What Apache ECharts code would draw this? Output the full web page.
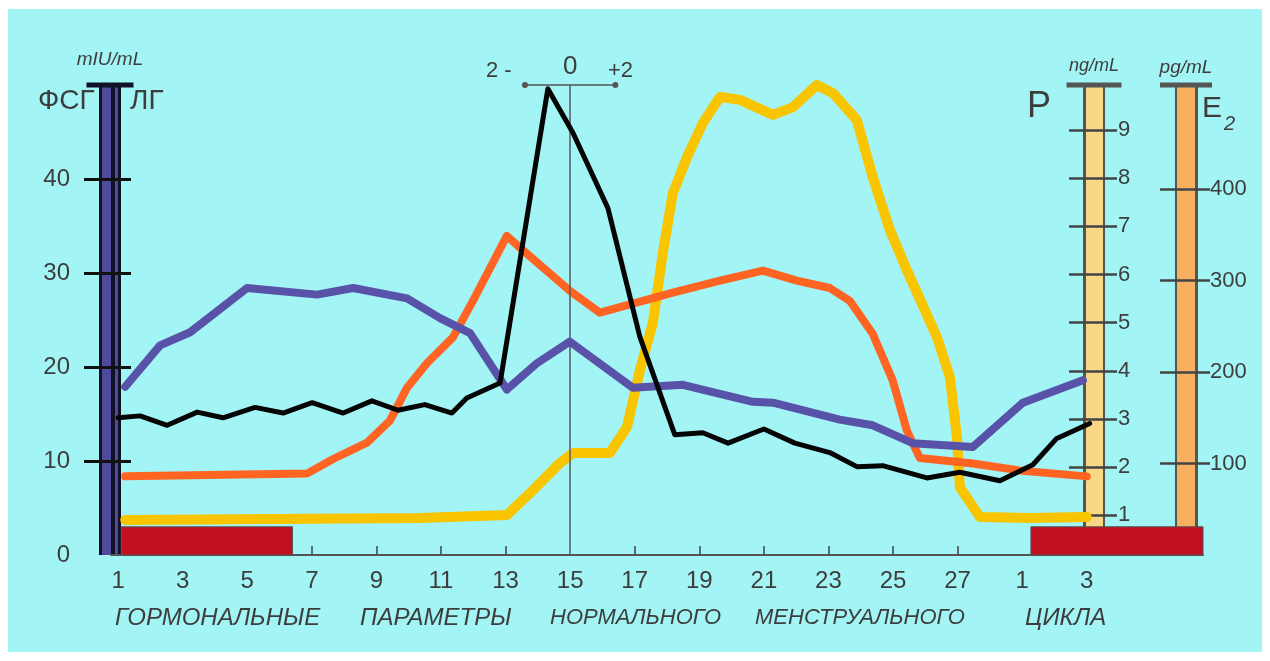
<!DOCTYPE html>
<html>
<head>
<meta charset="utf-8">
<title>Гормональные параметры нормального менструального цикла</title>
<script src="https://cdn.jsdelivr.net/npm/echarts@6/dist/echarts.min.js"></script>
<style>
	html, body { margin: 0; padding: 0; background: #fff; }
	#bg { position: absolute; left: 8px; top: 9px; width: 1254px; height: 643px; background: #a3f4f5; }
	#chart { position: absolute; left: 0; top: 0; width: 1270px; height: 661px; }
</style>
</head>
<body>
<div id="bg"></div>
<div id="chart"></div>
<script>
// день цикла: 29, 30, 31 = дни 1, 2, 3 следующего цикла
var dayLabels = [1, 3, 5, 7, 9, 11, 13, 15, 17, 19, 21, 23, 25, 27, 29, 31];
var dayTicks = [7, 9, 11, 13, 17, 19, 21, 23, 25, 27];

// ФСГ, mIU/mL
var fshDays = [1.22, 2.3, 3.23, 4.99, 7.16, 8.28, 9.95, 10.97, 11.9, 13.04, 13.97, 14.99, 16.94, 18.49, 20.66, 21.28, 23.35, 24.37, 25.61, 27.47, 29.02, 30.88];
var fshValues = [17.9, 22.3, 23.7, 28.4, 27.7, 28.4, 27.3, 25.2, 23.6, 17.6, 20.4, 22.7, 17.8, 18.1, 16.3, 16.2, 14.4, 13.8, 11.9, 11.5, 16.2, 18.6];

// ЛГ, mIU/mL
var lhDays = [1.0, 1.68, 2.52, 3.45, 4.25, 5.24, 6.11, 7.01, 7.97, 8.86, 9.67, 10.5, 11.34, 11.8, 12.83, 14.31, 15.09, 16.17, 17.16, 18.24, 19.11, 19.89, 21.0, 21.96, 23.04, 23.88, 24.68, 26.05, 27.07, 28.31, 29.33, 30.07, 31.09];
var lhValues = [14.6, 14.8, 13.8, 15.2, 14.6, 15.7, 15.1, 16.2, 15.1, 16.4, 15.4, 16.0, 15.1, 16.7, 18.3, 49.6, 44.9, 36.9, 23.2, 12.8, 13.0, 11.9, 13.4, 11.9, 10.9, 9.4, 9.5, 8.2, 8.8, 7.9, 9.6, 12.4, 14.0];

// E2, pg/mL
var e2Days = [1.22, 6.85, 7.66, 8.71, 9.42, 9.95, 10.57, 11.37, 11.99, 13.04, 13.45, 14.99, 15.92, 16.94, 18.18, 19.64, 20.97, 22.02, 23.04, 23.66, 24.37, 24.99, 25.43, 25.83, 27.47, 29.02, 31.0];
var e2Values = [86, 89, 105, 123, 147, 183, 210, 238, 278, 349, 336, 289, 265, 275, 287, 300, 311, 300, 292, 278, 242, 191, 136, 106, 100, 92, 86];

// P, ng/mL
var pDays = [1.22, 10.35, 13.04, 13.76, 14.68, 15.09, 16.23, 16.76, 17.16, 17.56, 17.87, 18.18, 18.62, 19.11, 19.64, 20.26, 21.28, 21.9, 22.64, 23.14, 23.88, 24.37, 24.9, 25.43, 26.36, 26.76, 26.98, 27.07, 27.69, 29.24, 31.0];
var pValues = [0.9, 0.94, 1.0, 1.46, 2.08, 2.29, 2.29, 2.83, 4.01, 4.99, 6.45, 7.69, 8.44, 9.15, 9.69, 9.63, 9.32, 9.48, 9.94, 9.77, 9.21, 8.03, 6.93, 6.09, 4.7, 3.87, 2.62, 1.58, 0.96, 0.94, 0.96];

// менструация (дни) и овуляция
var mensesRanges = [[1.1, 6.4], [29.27, 34.6]];
var mensesHeight = 3;
var ovulationDay = 15;
var peakWindow = [13.6, 16.4];
var peakWindowLevel = 50;

var fshLabels = [0, 10, 20, 30, 40];
var fshTicks = [10, 20, 30, 40];
var pLabels = [1, 2, 3, 4, 5, 6, 7, 8, 9];
var e2Labels = [100, 200, 300, 400];

var captionWords = ['ГОРМОНАЛЬНЫЕ', 'ПАРАМЕТРЫ', 'НОРМАЛЬНОГО', 'МЕНСТРУАЛЬНОГО', 'ЦИКЛА'];

function pairs(xs, ys) {
	return xs.map(function (x, i) { return [x, ys[i]]; });
}

var ink = '#3d3d3d';
var font = 'Liberation Sans';

function barAxis(opt) {
	// одна "полоса" шкалы-термометра
	var a = {
		type: 'value',
		position: opt.position,
		offset: opt.offset,
		min: opt.min,
		max: opt.max,
		splitLine: { show: false },
		axisLine: {
			show: opt.lineWidth > 0,
			lineStyle: { color: opt.color, width: opt.lineWidth || 1, cap: 'butt' },
			symbol: opt.cap ? ['none', 'rect'] : 'none',
			symbolSize: opt.cap || [1, 1]
		},
		axisTick: opt.ticks ? {
			show: true,
			inside: !!opt.tickInside,
			length: opt.tickLength,
			customValues: opt.ticks,
			lineStyle: { color: opt.tickColor, width: opt.tickWidth, cap: 'butt' }
		} : { show: false },
		axisLabel: opt.labels ? {
			show: true,
			customValues: opt.labels,
			margin: opt.labelMargin,
			color: ink,
			fontFamily: font,
			fontSize: opt.labelSize
		} : { show: false }
	};
	if (opt.name) {
		a.name = opt.name;
		a.nameLocation = 'end';
		a.nameGap = opt.nameGap;
		a.nameTextStyle = { color: ink, fontFamily: font, fontSize: opt.nameSize, fontStyle: 'italic' };
	}
	return a;
}

var fshMin = 0, fshMax = 50;
var pMin = 0.17, pMax = 9.94;
var e2Min = 0, e2Max = 514;

var yAxes = [
	// 0: ФСГ/ЛГ основная
	barAxis({ position: 'left', offset: 1, min: fshMin, max: fshMax, color: '#121226', lineWidth: 22, cap: [47, 5],
		ticks: fshTicks, tickLength: 26, tickColor: '#111', tickWidth: 3,
		labels: fshLabels, labelMargin: 40, labelSize: 24, name: 'mIU/mL', nameGap: 16, nameSize: 19 }),
	// 1, 2: фиолетовая заливка
	barAxis({ position: 'left', offset: 4.5, min: fshMin, max: fshMax, color: '#4f4a9c', lineWidth: 9 }),
	barAxis({ position: 'left', offset: -5.5, min: fshMin, max: fshMax, color: '#4f4a9c', lineWidth: 3 }),
	// 3: черточки поверх
	barAxis({ position: 'left', offset: 1, min: fshMin, max: fshMax, lineWidth: 0,
		ticks: fshTicks, tickInside: true, tickLength: 21, tickColor: '#111', tickWidth: 3 }),

	// 4: P основная
	barAxis({ position: 'right', offset: -109, min: pMin, max: pMax, color: '#555', lineWidth: 22, cap: [55, 5],
		labels: pLabels, labelMargin: 24, labelSize: 22, name: 'ng/mL', nameGap: 10, nameSize: 18 }),
	barAxis({ position: 'right', offset: -109, min: pMin, max: pMax, color: '#f8d884', lineWidth: 17,
		ticks: pLabels, tickInside: true, tickLength: 25, tickColor: '#444', tickWidth: 2.5 }),
	barAxis({ position: 'right', offset: -109, min: pMin, max: pMax, lineWidth: 0,
		ticks: pLabels, tickLength: 23, tickColor: '#444', tickWidth: 2.5 }),

	// 7: E2 основная
	barAxis({ position: 'right', offset: -17, min: e2Min, max: e2Max, color: '#555', lineWidth: 23, cap: [52, 5],
		labels: e2Labels, labelMargin: 24, labelSize: 22, name: 'pg/mL', nameGap: 8, nameSize: 19 }),
	barAxis({ position: 'right', offset: -17, min: e2Min, max: e2Max, color: '#f6b060', lineWidth: 18,
		ticks: e2Labels, tickInside: true, tickLength: 26, tickColor: '#444', tickWidth: 2.5 }),
	barAxis({ position: 'right', offset: -17, min: e2Min, max: e2Max, lineWidth: 0,
		ticks: e2Labels, tickLength: 24, tickColor: '#444', tickWidth: 2.5 })
];

var chart = echarts.init(document.getElementById('chart'), null, { renderer: 'canvas' });

var option = {
	animation: false,
	backgroundColor: 'transparent',
	grid: { left: 111, right: 67, top: 85, bottom: 106, containLabel: false },
	xAxis: {
		type: 'value',
		min: 0.78,
		max: 34.6,
		splitLine: { show: false },
		axisLine: { lineStyle: { color: '#555', width: 2 } },
		axisTick: { show: true, inside: true, length: 9, customValues: dayTicks, lineStyle: { color: '#444', width: 1.5 } },
		axisLabel: {
			customValues: dayLabels,
			margin: 14,
			color: ink,
			fontFamily: font,
			fontSize: 24,
			formatter: function (v) { return String(v > 28 ? v - 28 : v); }
		}
	},
	yAxis: yAxes,
	series: [
		{
			name: 'P',
			type: 'line',
			yAxisIndex: 4,
			data: pairs(pDays, pValues),
			showSymbol: false,
			clip: false,
			z: 3,
			lineStyle: { color: '#f9c400', width: 10, cap: 'round', join: 'round' }
		},
		{
			name: 'E2',
			type: 'line',
			yAxisIndex: 7,
			data: pairs(e2Days, e2Values),
			showSymbol: false,
			clip: false,
			z: 4,
			lineStyle: { color: '#ff6422', width: 8, cap: 'round', join: 'round' },
			// линия дня овуляции
			markLine: {
				silent: true,
				animation: false,
				symbol: 'none',
				label: { show: false },
				lineStyle: { color: '#5a5a5a', width: 1.5, type: 'solid' },
				data: [{ xAxis: ovulationDay }]
			}
		},
		{
			name: 'ФСГ',
			type: 'line',
			yAxisIndex: 0,
			data: pairs(fshDays, fshValues),
			showSymbol: false,
			clip: false,
			z: 5,
			lineStyle: { color: '#5853a8', width: 8, cap: 'round', join: 'round' },
			markArea: {
				silent: true,
				itemStyle: { color: '#c20f1f', borderColor: '#555', borderWidth: 1 },
				data: mensesRanges.map(function (r) {
					return [{ xAxis: r[0], yAxis: 0 }, { xAxis: r[1], yAxis: mensesHeight }];
				})
			}
		},
		{
			name: 'ЛГ',
			type: 'line',
			yAxisIndex: 0,
			data: pairs(lhDays, lhValues),
			showSymbol: false,
			clip: false,
			z: 6,
			lineStyle: { color: '#050505', width: 5, cap: 'round', join: 'round' },
			markLine: {
				silent: true,
				animation: false,
				label: { show: false },
				symbol: ['circle', 'circle'],
				symbolSize: 6,
				data: [
					[{ coord: [peakWindow[0], peakWindowLevel] },
					 { coord: [peakWindow[1], peakWindowLevel] }]
				],
				lineStyle: { color: '#555', width: 1.5, type: 'solid' }
			}
		}
	],
	graphic: [
		{ type: 'text', left: 38, top: 87, style: { text: 'ФСГ', fill: ink, font: '28px "Liberation Sans"' } },
		{ type: 'text', left: 130, top: 87, style: { text: 'ЛГ', fill: ink, font: '28px "Liberation Sans"' } },
		{ type: 'text', left: 1027, top: 89, style: { text: 'P', fill: ink, font: '36px "Liberation Sans"' } },
		{ type: 'text', left: 1202, top: 94, style: { text: 'E', fill: ink, font: '30px "Liberation Sans"' } },
		{ type: 'text', left: 1224, top: 114, style: { text: '2', fill: ink, font: 'italic 20px "Liberation Sans"' } },
		{ type: 'text', left: 486, top: 60, style: { text: '2 -', fill: ink, font: '22px "Liberation Sans"' } },
		{ type: 'text', left: 563, top: 54, style: { text: '0', fill: ink, font: '26px "Liberation Sans"' } },
		{ type: 'text', left: 608, top: 60, style: { text: '+2', fill: ink, font: '22px "Liberation Sans"' } },
		{ type: 'text', left: 115, top: 606, style: { text: captionWords[0], fill: ink, font: 'italic 24px "Liberation Sans"' } },
		{ type: 'text', left: 360, top: 606, style: { text: captionWords[1], fill: ink, font: 'italic 24px "Liberation Sans"' } },
		{ type: 'text', left: 550, top: 607, style: { text: captionWords[2], fill: ink, font: 'italic 22px "Liberation Sans"' } },
		{ type: 'text', left: 755, top: 607, style: { text: captionWords[3], fill: ink, font: 'italic 22px "Liberation Sans"' } },
		{ type: 'text', left: 1025, top: 606, style: { text: captionWords[4], fill: ink, font: 'italic 24px "Liberation Sans"' } }
	]
};

chart.setOption(option);
</script>
</body>
</html>
